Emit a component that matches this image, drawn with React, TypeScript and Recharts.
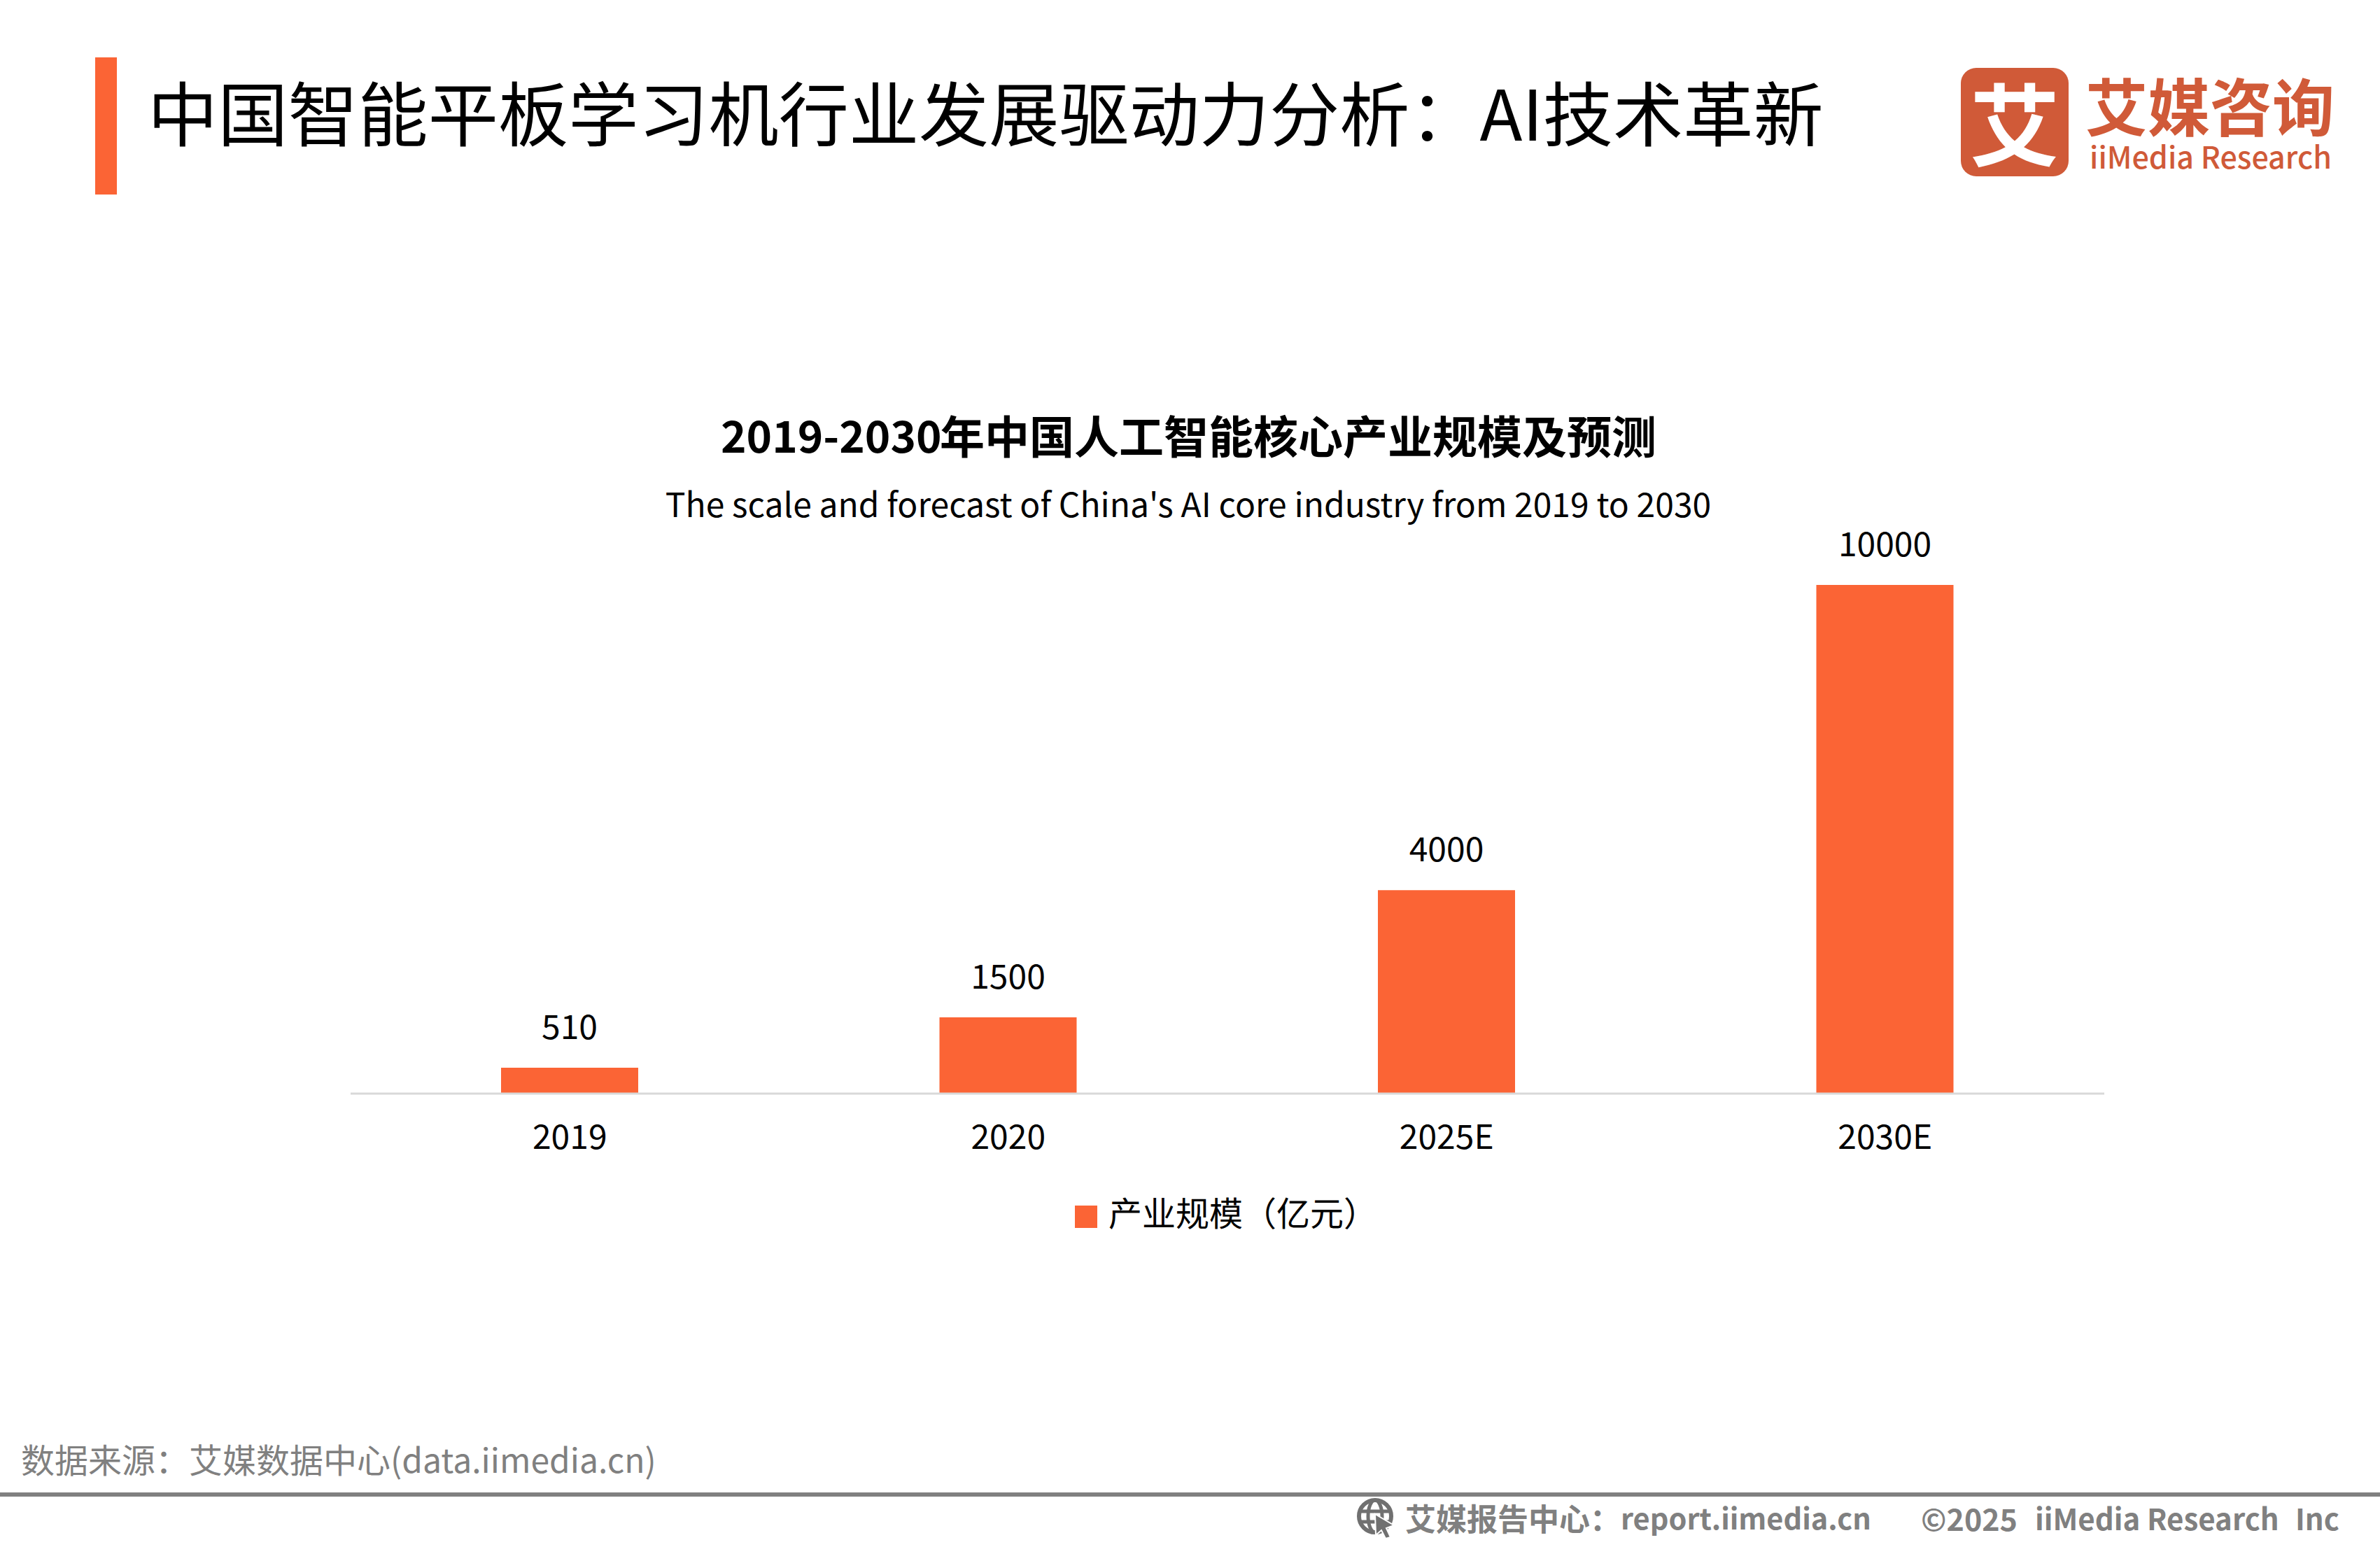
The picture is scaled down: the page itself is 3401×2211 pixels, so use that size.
import { Bar, BarChart, LabelList, Legend, XAxis, YAxis } from 'recharts';
import type { CSSProperties } from 'react';

const years = ['2019', '2020', '2025E', '2030E'];
const industryScale = [510, 1500, 4000, 10000];
const seriesName = '产业规模（亿元）';

const pageTitle = '中国智能平板学习机行业发展驱动力分析：AI技术革新';
const chartTitleYears = '2019-2030';
const chartTitleText = '年中国人工智能核心产业规模及预测';
const chartSubtitle = "The scale and forecast of China's AI core industry from 2019 to 2030";
const sourceNote = '数据来源：艾媒数据中心(data.iimedia.cn)';

const chartData = years.map((year, i) => ({ year, scale: industryScale[i] }));

const ORANGE = '#FB6435';
const LOGO = '#D05A38';
const GREY = '#808080';
const FONT = '"Noto Sans CJK SC", "Noto Sans", sans-serif';

// one absolutely placed line of text, y is the vertical centre
const Txt = ({ x, y, size, color = '#000', weight = 400, text, anchor = 'left', extra }: {
  x: number; y: number; size: number; color?: string; weight?: number; text: string;
  anchor?: 'left' | 'center'; extra?: CSSProperties;
}) => (
  <div
    style={{
      position: 'absolute',
      left: x,
      top: y,
      transform: anchor === 'center' ? 'translate(-50%, -50%)' : 'translateY(-50%)',
      fontSize: size,
      fontWeight: weight,
      color,
      lineHeight: 1,
      whiteSpace: 'nowrap',
      ...extra,
    }}
  >
    {text}
  </div>
);

const GlobeIcon = () => (
  <svg style={{ position: 'absolute', left: 1938, top: 2140 }} width="58" height="60" viewBox="0 0 58 60">
    <circle cx="27" cy="27" r="23" fill="none" stroke="#707070" strokeWidth="6" />
    <ellipse cx="27" cy="27" rx="10" ry="23" fill="none" stroke="#707070" strokeWidth="5" />
    <path d="M4 20H50M4 35H50" stroke="#707070" strokeWidth="5" />
    <path d="M27 24L54 40L43 44L49 57L42 59L36 47L28 54Z" fill="#707070" stroke="#fff" strokeWidth="2" />
  </svg>
);

export default function App() {
  return (
    <div
      style={{
        position: 'absolute',
        left: 0,
        top: 0,
        width: 3401,
        height: 2211,
        overflow: 'hidden',
        background: '#fff',
        fontFamily: FONT,
      }}
    >
      <div style={{ position: 'absolute', left: 136, top: 82, width: 31, height: 196, background: ORANGE }} />
      <Txt x={211} y={158} size={100.2} text={pageTitle} />

      {/* logo */}
      <div style={{ position: 'absolute', left: 2802, top: 97, width: 154, height: 155, borderRadius: 22, background: LOGO }} />
      <Txt x={2879} y={173} size={128} color="#fff" weight={700} text="艾" anchor="center" />
      <Txt x={2980} y={148} size={89} color={LOGO} weight={700} text="艾媒咨询" />
      <Txt x={2986} y={222} size={43} color={LOGO} weight={500} text="iiMedia Research" />

      <Txt x={1030} y={620} size={62} weight={700} text={chartTitleYears} />
      <Txt x={1343} y={620} size={64} weight={700} text={chartTitleText} />
      <Txt x={1698} y={718} size={48} text={chartSubtitle} anchor="center" />

      <BarChart
        style={{ position: 'absolute', left: 0, top: 0 }}
        width={3401}
        height={2211}
        data={chartData}
        margin={{ top: 836, right: 394, bottom: 548, left: 501 }}
      >
        <XAxis
          dataKey="year"
          height={100}
          axisLine={{ stroke: '#D9D9D9', strokeWidth: 3 }}
          tickLine={false}
          tick={{ fontSize: 48, fill: '#000' }}
          tickMargin={39}
        />
        <YAxis hide domain={[0, 10000]} />
        <Legend
          layout="horizontal"
          verticalAlign="middle"
          align="center"
          iconType="square"
          iconSize={32}
          wrapperStyle={{ left: 1536, top: 1696, width: 'auto', fontSize: 48 }}
          formatter={(value) => <span style={{ color: '#000', fontSize: 48, marginLeft: 12 }}>{value}</span>}
        />
        <Bar dataKey="scale" name={seriesName} fill={ORANGE} barSize={196} isAnimationActive={false}>
          <LabelList dataKey="scale" position="top" offset={41} style={{ fontSize: 48, fill: '#000' }} />
        </Bar>
      </BarChart>

      <Txt x={30} y={2084} size={48} color={GREY} text={sourceNote} />
      <div style={{ position: 'absolute', left: 0, top: 2133, width: 3401, height: 6, background: GREY }} />
      <GlobeIcon />
      <Txt x={2008} y={2169} size={44} color={GREY} weight={700} text="艾媒报告中心：" />
      <Txt x={2316} y={2169} size={41.5} color={GREY} weight={700} text="report.iimedia.cn" />
      <Txt x={2745} y={2169} size={43} color={GREY} weight={700} text="©2025" />
      <Txt x={2908} y={2169} size={42} color={GREY} weight={700} text="iiMedia Research" />
      <Txt x={3280} y={2169} size={42} color={GREY} weight={700} text="Inc" />
    </div>
  );
}
